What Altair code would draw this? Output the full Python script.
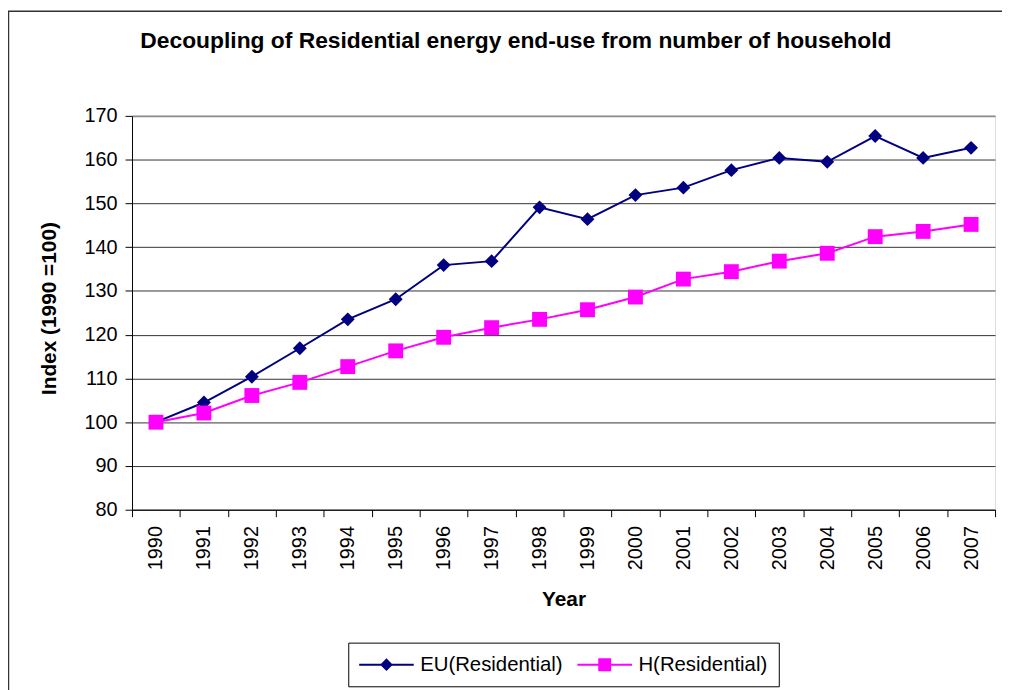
import altair as alt
import pandas as pd

FONT = "Liberation Sans"

years = [str(y) for y in range(1990, 2008)]
eu_residential = [100, 104.5, 110.4, 116.9, 123.5, 128.1, 135.9, 136.8, 149.1,
                  146.4, 151.9, 153.6, 157.6, 160.4, 159.5, 165.4, 160.4, 162.7]
h_residential = [100, 102.1, 106.1, 109.1, 112.7, 116.3, 119.4, 121.6, 123.5,
                 125.7, 128.6, 132.7, 134.4, 136.8, 138.6, 142.4, 143.6, 145.2]
series_names = ["EU(Residential)", "H(Residential)"]
series_colors = ["#000080", "#FF00FF"]
marker_shapes = ["diamond", "square"]
marker_sizes = [196, 225]
legend_paths = [
    "M-2.75,0H2.75M0,-0.5L0.5,0L0,0.5L-0.5,0Z",
    "M-2.75,0H2.75M-0.55,-0.55H0.55V0.55H-0.55Z",
]
y_ticks = list(range(80, 171, 10))

rows = []
for name, vals in zip(series_names, [eu_residential, h_residential]):
    for yr, v in zip(years, vals):
        rows.append({"Year": yr, "Value": v, "Series": name})
df = pd.DataFrame(rows)

x_enc = alt.X(
    "Year:O",
    scale=alt.Scale(type="band", paddingInner=0, paddingOuter=0),
    axis=alt.Axis(
        title="Year", labelAngle=270, tickBand="extent", tickSize=7,
        labelPadding=9, labelFontSize=20, labelFont=FONT, labelColor="black",
        titleFont=FONT, titleFontSize=21, titleFontWeight="bold",
        titleColor="black", titlePadding=19, domainColor="black",
        tickColor="black", grid=False,
    ),
)
y_enc = alt.Y(
    "Value:Q",
    scale=alt.Scale(domain=[80, 170], nice=False, zero=False),
    axis=alt.Axis(
        title="Index (1990 =100)", values=y_ticks, tickSize=7, labelPadding=8,
        labelFontSize=20, labelFont=FONT, labelColor="black",
        titleFont=FONT, titleFontSize=21, titleFontWeight="bold",
        titleColor="black", titleAngle=270, titleX=-77, titleY=281,
        titleAlign="left", titleBaseline="alphabetic",
        domainColor="black", tickColor="black", grid=True,
        gridColor={"condition": {"test": "datum.value === 170", "value": "#8a8a8a"}, "value": "#333333"},
        gridWidth={"condition": {"test": "datum.value === 170", "value": 2}, "value": 1},
    ),
)

base = alt.Chart(df)

line = base.mark_line(strokeWidth=2).encode(
    x=x_enc, y=y_enc,
    color=alt.Color("Series:N", scale=alt.Scale(domain=series_names, range=series_colors), legend=None),
)

points = base.mark_point(filled=True, opacity=1).encode(
    x=x_enc, y=y_enc,
    color=alt.Color("Series:N", scale=alt.Scale(domain=series_names, range=series_colors), legend=None),
    shape=alt.Shape("Series:N", scale=alt.Scale(domain=series_names, range=marker_shapes), legend=None),
    size=alt.Size("Series:N", scale=alt.Scale(domain=series_names, range=marker_sizes), legend=None),
)

leg = alt.Legend(
    title=None, orient="none", legendX=218, legendY=531, direction="horizontal",
    strokeColor="black", fillColor="white", padding=11, symbolSize=400,
    symbolStrokeWidth=2, symbolOffset=16.5, labelOffset=23, labelFontSize=20.5,
    labelFont=FONT, labelColor="black", columnPadding=10, symbolOpacity=1,
)

legend_layer = base.mark_point(filled=False, opacity=0, strokeWidth=2).encode(
    x=x_enc, y=y_enc,
    fill=alt.Fill("Series:N", scale=alt.Scale(domain=series_names, range=series_colors), legend=leg),
    stroke=alt.Stroke("Series:N", scale=alt.Scale(domain=series_names, range=series_colors), legend=leg),
    shape=alt.Shape("Series:N", scale=alt.Scale(domain=series_names, range=legend_paths), legend=leg),
)

border = alt.Chart(alt.Data(values=[{}])).mark_rect(
    fill="white", fillOpacity=0, stroke="#333333", strokeWidth=1.5
).encode(
    x=alt.value(-124.5), x2=alt.value(1200), y=alt.value(-105.5), y2=alt.value(800)
)

chart = alt.layer(border, line, points, legend_layer).resolve_scale(
    color="independent", shape="independent", size="independent",
    fill="independent", stroke="independent",
).properties(
    width=870, height=397,
    autosize=alt.AutoSizeParams(type="none"),
    padding={"left": 125, "top": 106, "right": 7, "bottom": 180},
    title=alt.TitleParams(
        "Decoupling of Residential energy end-use from number of household",
        anchor="middle", frame="group", dx=-48, offset=-43, fontSize=23, font=FONT,
        fontWeight="bold", color="black",
    ),
).configure_view(stroke="#8a8a8a", strokeWidth=2).configure(background="white")

chart.save("out.html", embed_options={"renderer": "svg", "actions": False})
